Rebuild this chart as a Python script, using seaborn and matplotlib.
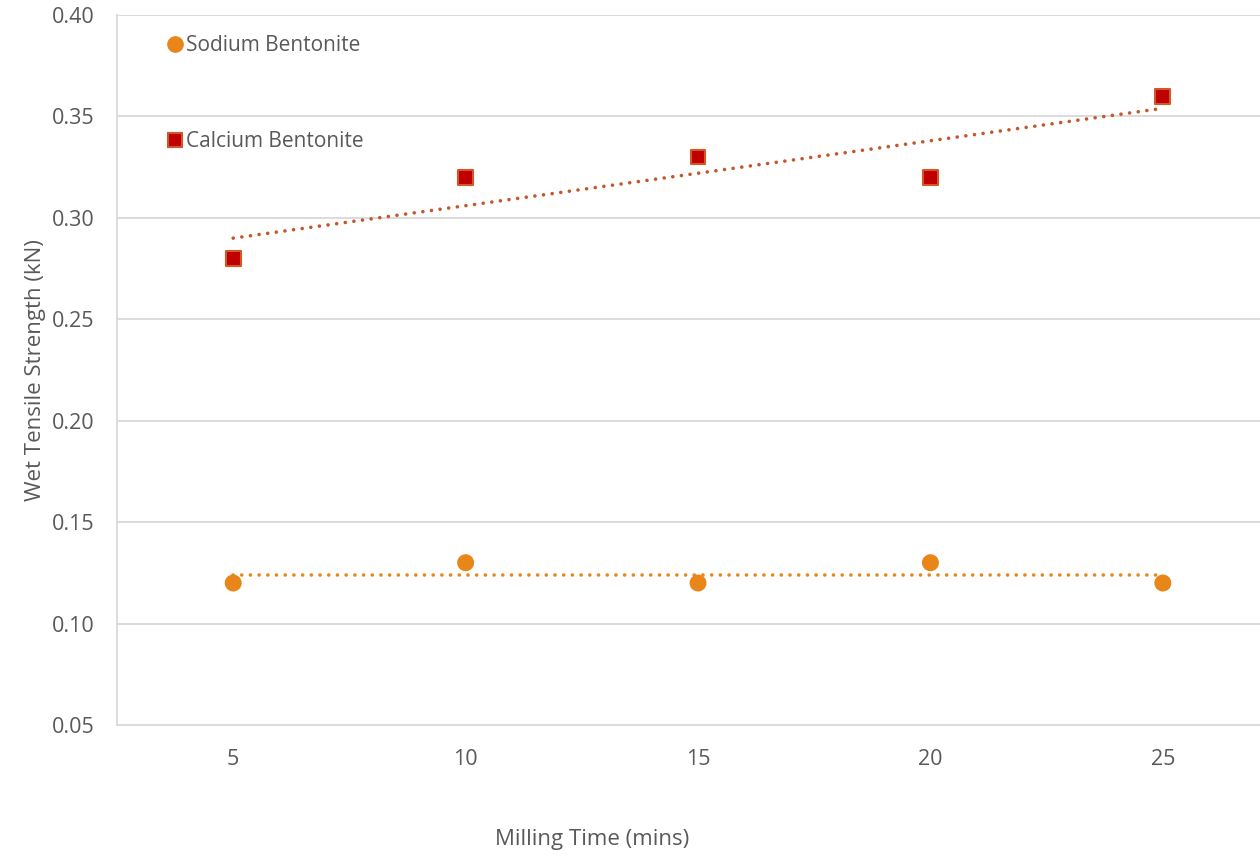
import numpy as np
import pandas as pd
import matplotlib
matplotlib.use('Agg')
import matplotlib.pyplot as plt
from matplotlib.lines import Line2D
import seaborn as sns

# data
milling_time = [5, 10, 15, 20, 25]
sodium = [0.12, 0.13, 0.12, 0.13, 0.12]
calcium = [0.28, 0.32, 0.33, 0.32, 0.36]
y_ticks = [0.05, 0.10, 0.15, 0.20, 0.25, 0.30, 0.35, 0.40]

colors = {
    'sodium': '#E8861A', 'calcium': '#C00000', 'calcium_edge': '#D2572B',
    'trend_ca': '#C5562B', 'text': '#595959', 'grid': '#D9D9D9',
}

sns.set_theme(style='white')
plt.rcParams['font.family'] = ['Open Sans', 'DejaVu Sans']

df = pd.DataFrame({
    'time': milling_time * 2,
    'strength': sodium + calcium,
    'series': ['Sodium Bentonite'] * 5 + ['Calcium Bentonite'] * 5,
})

fig = plt.figure(figsize=(12.6, 8.57), dpi=100)
ax = fig.add_axes([117 / 1260, 1 - 725 / 857, 1 - 117 / 1260, 710 / 857])

# linear trend lines (Excel style)
for vals, col in [(sodium, colors['sodium']), (calcium, colors['trend_ca'])]:
    k, b = np.polyfit(milling_time, vals, 1)
    xs = np.array([milling_time[0], milling_time[-1]])
    ax.plot(xs, k * xs + b, linestyle=(0, (0.01, 2.4)), dash_capstyle='round',
            color=col, linewidth=2.6, zorder=2)

sns.scatterplot(data=df, x='time', y='strength', hue='series', style='series',
                markers={'Sodium Bentonite': 'o', 'Calcium Bentonite': 's'},
                palette={'Sodium Bentonite': colors['sodium'], 'Calcium Bentonite': colors['calcium']},
                s=115, ax=ax, zorder=3, legend=False)
# square edge colour
coll = ax.collections[-1]
coll.set_edgecolor([colors['sodium']] * 5 + [colors['calcium_edge']] * 5)
coll.set_linewidth(1.5)

ax.set_xlim(2.5, 27.09)
ax.set_ylim(0.05, 0.40)
ax.set_yticks(y_ticks)
ax.set_yticklabels([f'{v:.2f}' for v in y_ticks])
ax.set_xticks(milling_time)
ax.yaxis.grid(True, color=colors['grid'], linewidth=1.3)
ax.tick_params(axis='both', length=0, labelsize=15.5, labelcolor=colors['text'])
ax.tick_params(axis='x', pad=17)
ax.tick_params(axis='y', pad=16)
for side in ['top', 'right']:
    ax.spines[side].set_visible(False)
for side in ['left', 'bottom']:
    ax.spines[side].set_color(colors['grid'])
    ax.spines[side].set_linewidth(1.3)

ax.set_xlabel('Milling Time (mins)', fontsize=16, color=colors['text'])
ax.set_ylabel('Wet Tensile Strength (kN)', fontsize=16, color=colors['text'])
ax.xaxis.set_label_coords(0.4155, -0.147)
ax.yaxis.set_label_coords(-0.062, 0.5)

# legend
handles = [
    Line2D([], [], marker='o', linestyle='', markersize=11, color=colors['sodium']),
    Line2D([], [], marker='s', linestyle='', markersize=9.5, markerfacecolor=colors['calcium'],
           markeredgecolor=colors['calcium_edge'], markeredgewidth=1.5),
]
leg = ax.legend(handles, ['Sodium Bentonite', 'Calcium Bentonite'], loc='upper left',
                bbox_to_anchor=(0.038, 0.983), frameon=False, fontsize=15,
                handlelength=0.6, handletextpad=0.25, labelspacing=3.6, borderaxespad=0)
for t in leg.get_texts():
    t.set_color(colors['text'])

fig.savefig('out.png', dpi=100)
